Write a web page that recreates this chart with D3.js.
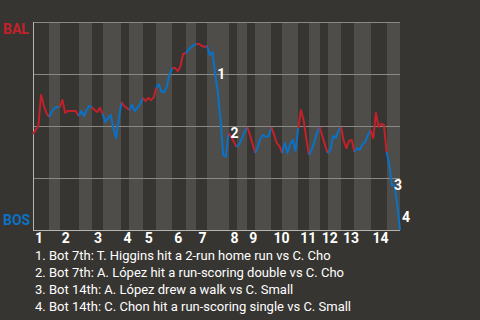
<!DOCTYPE html>
<html>
<head>
<meta charset="utf-8">
<script src="https://cdn.jsdelivr.net/npm/d3@7"></script>
<style>
  html, body { margin: 0; background: #373531; }
  svg { display: block; font-family: Roboto, sans-serif; }
</style>
</head>
<body>
<svg id="chart" width="480" height="320"></svg>
<script>
// BAL win probability (%) after each play, grouped by half-inning (top, bottom, top, ...)
var innings = ['1', '2', '3', '4', '5', '6', '7', '8', '9', '10', '11', '12', '13', '14'];
var startWp = 46.2;
var halfWp = [
  [48.1, 50, 64.9, 60.1, 56.3, 54.3],
  [56.7, 58.7, 59.1, 59.1],
  [62.5, 56.3, 57.2, 57.2, 57.2, 57.2, 54.8],
  [57.2, 54.8, 57.7, 59.6, 59.1],
  [57.7, 56.7, 58.7, 55.8],
  [51.9, 53.8, 55.3, 49.0, 44.2, 52.9, 61.5],
  [59.6, 58.7, 57.7],
  [60.1, 57.2, 58.7, 60.6, 63.5],
  [62.0, 63.5, 62.5, 63.5, 68.3],
  [70.2, 66.3, 66.3, 69.2, 75.0, 77.9],
  [77.9, 76.4, 78.4, 84.6, 85.1],
  [86.5, 88.0, 88.9, 89.4],
  [89.4, 88.5, 88.0, 88.5],
  [84.1, 85.6, 75.0, 66.3, 52.9, 36.1, 35.1, 46.6],
  [44.7, 42.3, 39.9],
  [41.3, 44.2, 47.1, 49.5],
  [45.7, 41.3, 37.0],
  [40.4, 44.2, 45.7, 44.7, 45.2, 49.5],
  [45.7, 41.8, 40.4, 37.0],
  [41.8, 37.0, 41.3, 43.3, 38.0, 49.0],
  [57.7, 52.9, 44.2, 36.1],
  [38.5, 42.3, 46.6, 49.5],
  [45.2, 40.9, 37.0],
  [38.5, 45.2, 44.2, 47.6, 49.5],
  [42.8, 39.4, 42.8, 43.3, 37.5],
  [39.4, 38.5, 41.3, 42.3, 45.7, 48.1],
  [44.2, 56.3, 49.5, 51.0, 50.5, 37.5],
  [31.3, 21.6, 21.2, 12.0, 0]
];
var gridTicks = [25, 50, 75, 100];
var notes = [
  '1. Bot 7th: T. Higgins hit a 2-run home run vs C. Cho',
  '2. Bot 7th: A. López hit a run-scoring double vs C. Cho',
  '3. Bot 14th: A. López drew a walk vs C. Small',
  '4. Bot 14th: C. Chon hit a run-scoring single vs C. Small'
];
var notePlay = [68, 73, 134, 137];

var RED = '#c4212a', BLUE = '#0a72c6';

// flatten plays
var plays = [{ wp: startWp, half: 0 }];
var halfStart = [];
halfWp.forEach(function(arr, h) {
  halfStart.push(plays.length - 1);
  arr.forEach(function(v) { plays.push({ wp: v, half: h }); });
});

var svg = d3.select('#chart');
var x = d3.scaleLinear().domain([0, plays.length - 1]).range([33, 400]);
var y = d3.scaleLinear().domain([0, 100]).range([230, 22]);

// half-inning bands, bottom halves lighter
svg.append('g').selectAll('rect')
  .data(halfWp.map(function(arr, h) { return { h: h, s: halfStart[h], e: halfStart[h] + arr.length }; })
    .filter(function(d) { return d.h % 2 == 1; }))
  .join('rect')
  .attr('x', function(d) { return x(d.s); })
  .attr('width', function(d) { return x(d.e) - x(d.s); })
  .attr('y', y(100))
  .attr('height', y(0) - y(100))
  .attr('fill', '#4e4d4a')
  .attr('shape-rendering', 'crispEdges');

// grid
svg.append('g').selectAll('line')
  .data(gridTicks)
  .join('line')
  .attr('x1', x(0)).attr('x2', x(plays.length - 1))
  .attr('y1', function(d) { return Math.round(y(d)) + 0.5; })
  .attr('y2', function(d) { return Math.round(y(d)) + 0.5; })
  .attr('stroke', '#8a8986');

svg.append('line')
  .attr('x1', x(0) + 0.5).attr('x2', x(0) + 0.5)
  .attr('y1', y(100)).attr('y2', y(0))
  .attr('stroke', '#b5b4b1');
svg.append('line')
  .attr('x1', x(0)).attr('x2', x(plays.length - 1))
  .attr('y1', y(0) + 0.5).attr('y2', y(0) + 0.5)
  .attr('stroke', '#b5b4b1');

// win probability line, one piece per half-inning
var line = d3.line()
  .x(function(d) { return x(d.i); })
  .y(function(d) { return y(d.wp); });

svg.append('g').selectAll('path')
  .data(halfWp.map(function(arr, h) {
    var pts = [];
    for (var i = halfStart[h]; i <= halfStart[h] + arr.length; i++) pts.push({ i: i, wp: plays[i].wp });
    return { h: h, pts: pts };
  }))
  .join('path')
  .attr('d', function(d) { return line(d.pts); })
  .attr('fill', 'none')
  .attr('stroke', function(d) { return d.h % 2 ? BLUE : RED; })
  .attr('stroke-width', 2)
  .attr('stroke-linejoin', 'round');

// team labels
svg.append('text').attr('x', 3).attr('y', 34).text('BAL')
  .attr('fill', RED).attr('font-size', 14).attr('font-weight', 'bold');
svg.append('text').attr('x', 3).attr('y', 225).text('BOS')
  .attr('fill', BLUE).attr('font-size', 14).attr('font-weight', 'bold');

// inning labels at the start of each top half
svg.append('g').selectAll('text')
  .data(innings)
  .join('text')
  .attr('x', function(d, k) { return x(halfStart[k * 2]) + 2; })
  .attr('y', 243)
  .attr('fill', '#fff')
  .attr('font-size', 14)
  .attr('font-weight', 'bold')
  .text(function(d) { return d; });

// note markers on the line
svg.append('g').selectAll('text')
  .data(notePlay)
  .join('text')
  .attr('x', function(p) { return x(p) + 2; })
  .attr('y', function(p) { return Math.min(y(plays[p].wp), 217); })
  .attr('dy', '0.35em')
  .attr('fill', '#fff')
  .attr('font-size', 14)
  .attr('font-weight', 'bold')
  .text(function(p, k) { return k + 1; });

// notes list
svg.append('g').selectAll('text')
  .data(notes)
  .join('text')
  .attr('x', 35)
  .attr('y', function(d, k) { return 260 + k * 17; })
  .attr('fill', '#fff')
  .attr('font-size', 13)
  .text(function(d) { return d; });
</script>
</body>
</html>
